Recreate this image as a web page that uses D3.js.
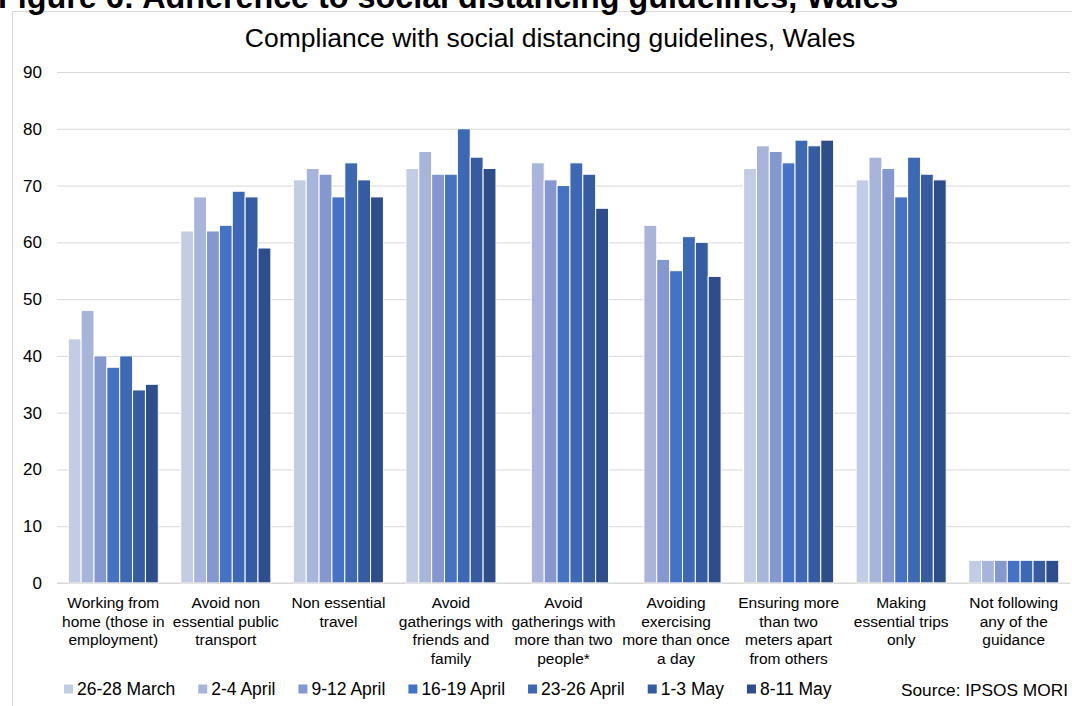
<!DOCTYPE html>
<html>
<head>
<meta charset="utf-8">
<script src="https://cdn.jsdelivr.net/npm/d3@7"></script>
<style>
  html, body { margin: 0; padding: 0; background: #fff; }
  svg { display: block; font-family: "Liberation Sans", Arial, sans-serif; }
</style>
</head>
<body>
<svg id="chart" width="1072" height="706"></svg>
<script>
// Category labels (line breaks as wrapped under the axis)
const categories = [
  "Working from\nhome (those in\nemployment)",
  "Avoid non\nessential public\ntransport",
  "Non essential\ntravel",
  "Avoid\ngatherings with\nfriends and\nfamily",
  "Avoid\ngatherings with\nmore than two\npeople*",
  "Avoiding\nexercising\nmore than once\na day",
  "Ensuring more\nthan two\nmeters apart\nfrom others",
  "Making\nessential trips\nonly",
  "Not following\nany of the\nguidance"
];

// Survey waves
const waves = ["26-28 March", "2-4 April", "9-12 April", "16-19 April", "23-26 April", "1-3 May", "8-11 May"];

// Percentage complying, one array per wave (null = not asked in that wave)
const wave1 = [43, 62, 71, 73, null, null, 73, 71, 4];
const wave2 = [48, 68, 73, 76, 74, 63, 77, 75, 4];
const wave3 = [40, 62, 72, 72, 71, 57, 76, 73, 4];
const wave4 = [38, 63, 68, 72, 70, 55, 74, 68, 4];
const wave5 = [40, 69, 74, 80, 74, 61, 78, 75, 4];
const wave6 = [34, 68, 71, 75, 72, 60, 77, 72, 4];
const wave7 = [35, 59, 68, 73, 66, 54, 78, 71, 4];
const seriesValues = [wave1, wave2, wave3, wave4, wave5, wave6, wave7];

const yTicks = [0, 10, 20, 30, 40, 50, 60, 70, 80, 90];

const colors = ["#C3CCE5", "#A8B5DB", "#8497CF", "#4472C4", "#3C68B4", "#355CA0", "#2E4D8B"];

const svg = d3.select("#chart");

// Chart frame
svg.append("rect")
  .attr("x", 12.5).attr("y", 11.5)
  .attr("width", 1100).attr("height", 720)
  .attr("fill", "#fff").attr("stroke", "#D9D9D9").attr("stroke-width", 1);

// Figure heading (runs off the top edge)
svg.append("text")
  .attr("x", -2).attr("y", 8)
  .attr("font-size", 32.3).attr("font-weight", "bold").attr("fill", "#000")
  .text("Figure 6: Adherence to social distancing guidelines, Wales");

// Chart title
svg.append("text")
  .attr("x", 550).attr("y", 47)
  .attr("text-anchor", "middle")
  .attr("font-size", 26.5).attr("fill", "#000")
  .text("Compliance with social distancing guidelines, Wales");

const x = d3.scaleBand()
  .domain(d3.range(categories.length))
  .range([57, 1070])
  .paddingInner(0.2)
  .paddingOuter(0.1);

const xs = d3.scaleBand()
  .domain(d3.range(waves.length))
  .range([0, x.bandwidth()]);

const y = d3.scaleLinear().domain([0, 90]).range([583, 72]);

// Gridlines and value axis labels
const yAxis = d3.axisLeft(y)
  .tickValues(yTicks)
  .tickSize(-(1070 - 57))
  .tickPadding(15);

const gy = svg.append("g")
  .attr("transform", "translate(57,0)")
  .call(yAxis);
gy.select(".domain").remove();
gy.selectAll(".tick line").attr("stroke", "#D9D9D9").attr("stroke-width", 1);
gy.selectAll(".tick text")
  .attr("font-size", 17)
  .attr("font-family", "Liberation Sans, Arial, sans-serif")
  .attr("fill", "#000");

// Bars
const groups = svg.append("g").selectAll("g")
  .data(seriesValues)
  .join("g")
  .attr("fill", (d, i) => colors[i]);

groups.selectAll("rect")
  .data((vals, si) => vals.map((v, ci) => ({ v, ci, si })).filter(d => d.v !== null))
  .join("rect")
  .attr("x", d => x(d.ci) + xs(d.si))
  .attr("y", d => y(d.v))
  .attr("width", xs.bandwidth())
  .attr("height", d => y(0) - y(d.v))
  .attr("stroke", "#fff")
  .attr("stroke-width", 1);

// Category axis baseline
svg.append("line")
  .attr("x1", 57).attr("x2", 1070)
  .attr("y1", y(0)).attr("y2", y(0))
  .attr("stroke", "#D9D9D9").attr("stroke-width", 1.2);

// Category labels
const xAxis = d3.axisBottom(x).tickSize(0).tickFormat(() => "");
const gx = svg.append("g").attr("transform", `translate(0,${y(0)})`).call(xAxis);
gx.select(".domain").remove();
gx.selectAll(".tick").each(function (ci) {
  const lines = categories[ci].split("\n");
  const t = d3.select(this).append("text")
    .attr("text-anchor", "middle")
    .attr("font-size", 15.5)
    .attr("fill", "#000")
    .attr("font-family", "Liberation Sans, Arial, sans-serif");
  lines.forEach((ln, k) => {
    t.append("tspan").attr("x", 0).attr("y", 25 + k * 18.5).text(ln);
  });
});

// Legend
const legend = svg.append("g").attr("transform", "translate(64,689)");
let lx = 0;
waves.forEach((w, i) => {
  const item = legend.append("g").attr("transform", `translate(${lx},0)`);
  item.append("rect")
    .attr("x", 0).attr("y", -4.5)
    .attr("width", 9).attr("height", 9)
    .attr("fill", colors[i]);
  const t = item.append("text")
    .attr("x", 13).attr("y", 6)
    .attr("font-size", 17.5).attr("fill", "#000")
    .text(w);
  lx += 13 + t.node().getComputedTextLength() + 23;
});

// Source note
svg.append("text")
  .attr("x", 1068).attr("y", 696)
  .attr("text-anchor", "end")
  .attr("font-size", 17.3).attr("fill", "#000")
  .text("Source: IPSOS MORI");
</script>
</body>
</html>
